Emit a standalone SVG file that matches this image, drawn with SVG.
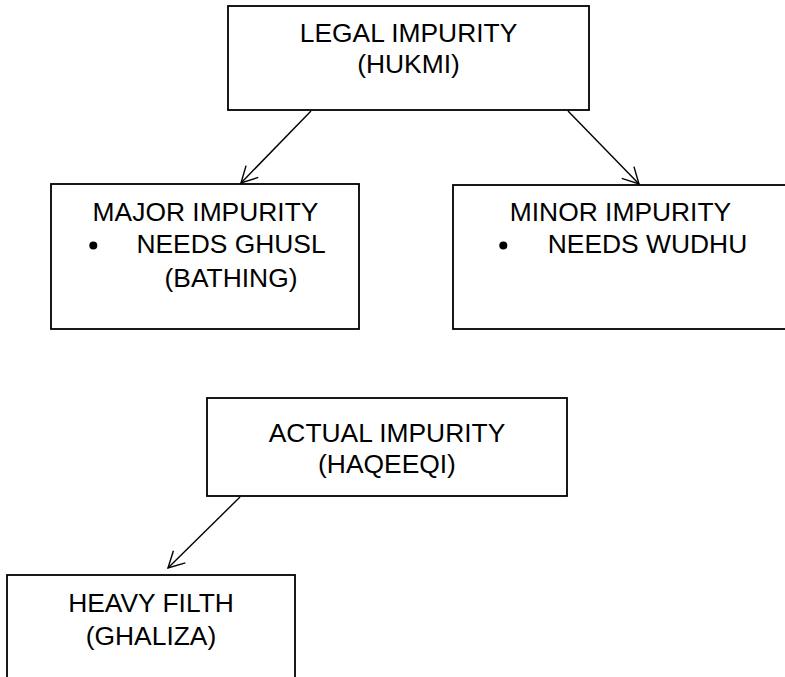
<svg xmlns="http://www.w3.org/2000/svg" width="785" height="677" viewBox="0 0 785 677">
<defs>
<style>
.box{fill:#fff;stroke:#000;stroke-width:1.8}
.t{font-family:"Liberation Sans",Arial,sans-serif;font-size:26.4px;fill:#000}
.c{text-anchor:middle}
.edge{stroke:#000;stroke-width:1.4;fill:none}
.bul{fill:#000}
</style>
<marker id="arr" markerUnits="userSpaceOnUse" markerWidth="24" markerHeight="24" viewBox="-20 -12 24 24" refX="0" refY="0" orient="auto">
<path d="M-16,-8.5 L0,0 L-16,8.5" fill="none" stroke="#000" stroke-width="1.4"/>
</marker>
</defs>
<g id="connectors">
<line class="edge" x1="311" y1="111" x2="241" y2="183" marker-end="url(#arr)"/>
<line class="edge" x1="568" y1="111" x2="639" y2="184" marker-end="url(#arr)"/>
<line class="edge" x1="240" y1="497" x2="168" y2="568" marker-end="url(#arr)"/>
</g>
<g id="legal">
<rect class="box" x="228" y="6" width="361" height="104"/>
<text class="t c" x="408.5" y="42">LEGAL IMPURITY</text>
<text class="t c" x="408.5" y="73">(HUKMI)</text>
</g>
<g id="major">
<rect class="box" x="51" y="184" width="308" height="145"/>
<text class="t c" x="205.5" y="221">MAJOR IMPURITY</text>
<circle class="bul" cx="93.3" cy="245.5" r="4"/>
<text class="t c" x="231" y="253">NEEDS GHUSL</text>
<text class="t c" x="231" y="287">(BATHING)</text>
</g>
<g id="minor">
<rect class="box" x="453" y="185" width="340" height="144"/>
<text class="t c" x="620.5" y="221">MINOR IMPURITY</text>
<circle class="bul" cx="503.3" cy="245.5" r="4"/>
<text class="t c" x="647.5" y="253">NEEDS WUDHU</text>
</g>
<g id="actual">
<rect class="box" x="207" y="398" width="360" height="98"/>
<text class="t c" x="387" y="442">ACTUAL IMPURITY</text>
<text class="t c" x="387" y="473">(HAQEEQI)</text>
</g>
<g id="heavy">
<rect class="box" x="7" y="575" width="288" height="106"/>
<text class="t c" x="151" y="612">HEAVY FILTH</text>
<text class="t c" x="151" y="645">(GHALIZA)</text>
</g>
</svg>
